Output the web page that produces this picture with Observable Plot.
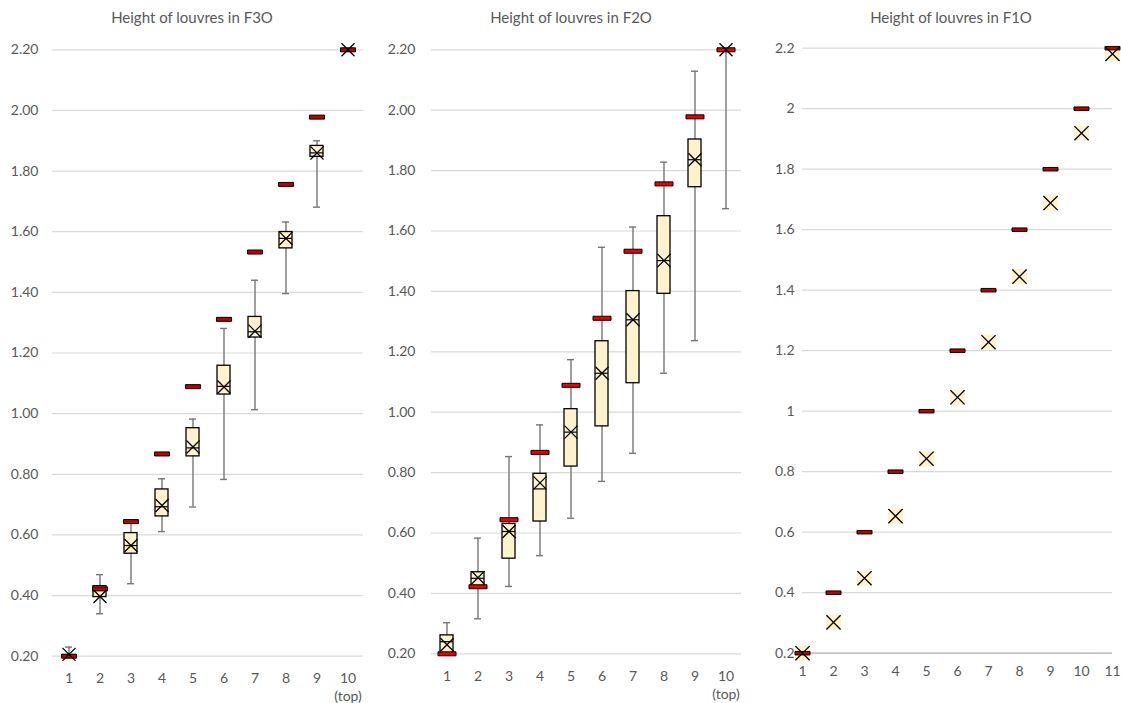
<!DOCTYPE html>
<html>
<head>
<meta charset="utf-8">
<script src="https://cdn.jsdelivr.net/npm/d3@7"></script>
<script src="https://cdn.jsdelivr.net/npm/@observablehq/plot@0.6"></script>
<style>
  html, body { margin: 0; padding: 0; background: #ffffff; }
  #wrap { position: relative; width: 1121px; height: 703px; overflow: hidden; font-family: Lato, "Open Sans", sans-serif; }
  .title { position: absolute; top: 8px; width: 300px; text-align: center; font-size: 15px; color: #595959; white-space: nowrap; }
  .panel { position: absolute; top: 30px; }
</style>
</head>
<body>
<div id="wrap">
  <div class="title" style="left:42px">Height of louvres in F3O</div>
  <div class="title" style="left:421px">Height of louvres in F2O</div>
  <div class="title" style="left:801px">Height of louvres in F1O</div>
  <div class="panel" id="p3" style="left:0px"></div>
  <div class="panel" id="p2" style="left:370px"></div>
  <div class="panel" id="p1" style="left:750px"></div>
</div>
<script>
// ---------- data ----------
const yTicks = [0.2, 0.4, 0.6, 0.8, 1.0, 1.2, 1.4, 1.6, 1.8, 2.0, 2.2];

// F3O (10 louvres)
const f3Cats   = [1, 2, 3, 4, 5, 6, 7, 8, 9, 10];
const f3Target = [0.200, 0.422, 0.644, 0.867, 1.089, 1.311, 1.533, 1.756, 1.978, 2.200];
const f3Low    = [0.200, 0.340, 0.439, 0.611, 0.692, 0.783, 1.013, 1.396, 1.681, 2.200];
const f3Q1     = [0.198, 0.395, 0.538, 0.661, 0.859, 1.063, 1.251, 1.545, 1.847, 2.200];
const f3Median = [0.200, 0.420, 0.565, 0.693, 0.887, 1.090, 1.270, 1.578, 1.860, 2.200];
const f3Q3     = [0.203, 0.431, 0.606, 0.750, 0.952, 1.158, 1.319, 1.599, 1.883, 2.200];
const f3High   = [0.230, 0.469, 0.640, 0.785, 0.982, 1.281, 1.440, 1.632, 1.900, 2.200];
const f3Mean   = [0.206, 0.397, 0.565, 0.697, 0.890, 1.088, 1.272, 1.578, 1.860, 2.200];

// F2O (10 louvres)
const f2Cats   = [1, 2, 3, 4, 5, 6, 7, 8, 9, 10];
const f2Target = [0.200, 0.422, 0.644, 0.867, 1.089, 1.311, 1.533, 1.756, 1.978, 2.200];
const f2Low    = [0.200, 0.316, 0.423, 0.525, 0.649, 0.771, 0.864, 1.129, 1.237, 1.674];
const f2Q1     = [0.200, 0.420, 0.515, 0.638, 0.820, 0.953, 1.096, 1.392, 1.745, 2.200];
const f2Median = [0.240, 0.450, 0.605, 0.746, 0.934, 1.129, 1.306, 1.502, 1.836, 2.200];
const f2Q3     = [0.261, 0.470, 0.630, 0.796, 1.010, 1.235, 1.401, 1.649, 1.903, 2.200];
const f2High   = [0.303, 0.583, 0.853, 0.958, 1.174, 1.546, 1.613, 1.828, 2.129, 2.200];
const f2Mean   = [0.230, 0.452, 0.605, 0.766, 0.934, 1.129, 1.306, 1.502, 1.836, 2.200];

// F1O (11 louvres)
const f1Cats   = [1, 2, 3, 4, 5, 6, 7, 8, 9, 10, 11];
const f1Target = [0.2, 0.4, 0.6, 0.8, 1.0, 1.2, 1.4, 1.6, 1.8, 2.0, 2.2];
const f1Mean   = [0.200, 0.302, 0.448, 0.653, 0.843, 1.046, 1.228, 1.445, 1.688, 1.919, 2.181];

// ---------- helpers ----------
const barSymbol = (w, h) => ({ draw(ctx) { ctx.rect(-w / 2, -h / 2, w, h); } });
const grey = "#595959";
const baseStyle = { fontFamily: "Lato, 'Open Sans', sans-serif", fontSize: "14px", color: grey, background: "transparent", overflow: "visible" };

function boxPanel(cfg) {
  const rows = cfg.cats.map((c, i) => ({
    c, low: cfg.low[i], q1: cfg.q1[i], med: cfg.median[i], q3: cfg.q3[i],
    high: cfg.high[i], mean: cfg.mean[i], target: cfg.target[i]
  }));
  return Plot.plot({
    width: cfg.width, height: 673,
    marginLeft: cfg.ml, marginRight: cfg.mr, marginTop: cfg.mt, marginBottom: cfg.mb,
    style: baseStyle,
    x: { type: "band", domain: cfg.cats, padding: 0, label: null },
    y: { domain: [0.2, 2.2], label: null },
    marks: [
      Plot.gridY(yTicks, { stroke: "#d9d9d9", strokeOpacity: 1, strokeWidth: 1.2 }),
      Plot.axisY(yTicks, { tickSize: 0, tickPadding: cfg.pad, tickFormat: d3.format(".2f"), fill: grey, fontSize: 14, label: null }),
      Plot.axisX({ tickSize: 0, tickPadding: 14, fill: grey, fontSize: 14, lineHeight: 1.3, label: null,
                   tickFormat: d => d === 10 ? "10\n(top)" : String(d) }),
      Plot.ruleX(rows, { x: "c", y1: "low", y2: "high", stroke: "#767676", strokeWidth: 1.4 }),
      Plot.tickY(rows, { x: "c", y: "low", stroke: "#767676", strokeWidth: 1.4, insetLeft: 12, insetRight: 12 }),
      Plot.tickY(rows, { x: "c", y: "high", stroke: "#767676", strokeWidth: 1.4, insetLeft: 12, insetRight: 12 }),
      Plot.barY(rows, { x: "c", y1: "q1", y2: "q3", fill: "#fff2cc", stroke: "#000", strokeWidth: 1.3, insetLeft: 9, insetRight: 9 }),
      Plot.tickY(rows, { x: "c", y: "med", stroke: "#000", strokeWidth: 1.2, insetLeft: 9, insetRight: 9 }),
      Plot.dot(rows, { x: "c", y: "target", symbol: barSymbol(cfg.redW, 4), r: 3, fill: cfg.red, stroke: "#000", strokeWidth: 1 }),
      Plot.dot(rows, { x: "c", y: "mean", symbol: "times", r: 6, stroke: "#000", strokeWidth: 1.3 })
    ]
  });
}

document.getElementById("p3").append(boxPanel({
  cats: f3Cats, low: f3Low, q1: f3Q1, median: f3Median, q3: f3Q3, high: f3High, mean: f3Mean, target: f3Target,
  width: 370, ml: 52, mr: 7, mt: 19.3, mb: 47.3, pad: 14, red: "#c00000", redW: 15
}));

document.getElementById("p2").append(boxPanel({
  cats: f2Cats, low: f2Low, q1: f2Q1, median: f2Median, q3: f2Q3, high: f2High, mean: f2Mean, target: f2Target,
  width: 380, ml: 61, mr: 9, mt: 19.3, mb: 49.7, pad: 16, red: "#ee0000", redW: 18
}));

// F1O panel
const f1Rows = f1Cats.map((c, i) => ({ c, target: f1Target[i], mean: f1Mean[i] }));
document.getElementById("p1").append(Plot.plot({
  width: 371, height: 673,
  marginLeft: 52, marginRight: 9, marginTop: 17.7, marginBottom: 50.3,
  style: baseStyle,
  x: { domain: [1, 11], label: null },
  y: { domain: [0.2, 2.2], label: null },
  marks: [
    Plot.gridY(yTicks, { stroke: "#d9d9d9", strokeOpacity: 1, strokeWidth: 1.2 }),
    Plot.ruleY([0.2], { stroke: "#bfbfbf", strokeWidth: 1.4 }),
    Plot.axisY(yTicks, { tickSize: 0, tickPadding: 8, fill: grey, fontSize: 14, label: null, tickFormat: d => String(+d.toFixed(1)) }),
    Plot.axisX(f1Cats, { tickSize: 0, tickPadding: 13, fill: grey, fontSize: 14, label: null, tickFormat: d => String(d) }),
    Plot.dot(f1Rows, { x: "c", y: "mean", symbol: "square", r: 8.5, fill: "#fff2cc", stroke: "none" }),
    Plot.dot(f1Rows, { x: "c", y: "target", symbol: barSymbol(15, 3.5), r: 3, fill: "#c00000", stroke: "#000", strokeWidth: 1 }),
    Plot.dot(f1Rows, { x: "c", y: "mean", symbol: "times", r: 6.5, stroke: "#000", strokeWidth: 1.3 })
  ]
}));
</script>
</body>
</html>
